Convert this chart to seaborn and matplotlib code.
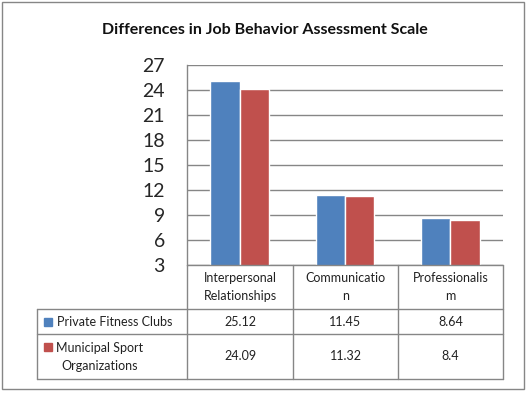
import pandas as pd
import matplotlib.pyplot as plt
import seaborn as sns
import numpy as np

categories = ['Interpersonal Relationships', 'Communication', 'Professionalism']
header_labels = ['Interpersonal\nRelationships', 'Communicatio\nn', 'Professionalis\nm']
series = ['Private Fitness Clubs', 'Municipal Sport Organizations']
series_labels = ['Private Fitness Clubs', 'Municipal Sport\nOrganizations']
private_vals = [25.12, 11.45, 8.64]
municipal_vals = [24.09, 11.32, 8.4]
yticks = [3, 6, 9, 12, 15, 18, 21, 24, 27]
colors = ['#4F81BD', '#C0504D']

df = pd.DataFrame({
    'category': categories * 2,
    'group': [series[0]] * 3 + [series[1]] * 3,
    'value': private_vals + municipal_vals,
})

W, H = 529, 394
sns.set_style('white')
plt.rcParams['font.family'] = ['Lato', 'DejaVu Sans']

fig = plt.figure(figsize=(W / 100, H / 100), dpi=100)


def fx(px):
    return px / W


def fy(py):
    return 1 - py / H


grey = '#868686'
ax = fig.add_axes([fx(187), fy(265), fx(503) - fx(187), fy(65) - fy(265)])
sns.barplot(data=df, x='category', y='value', hue='group', palette=colors,
            width=0.56, saturation=1, ax=ax, legend=False, zorder=3)
ax.set_ylim(3, 27)
ax.set_xlim(-0.5, 2.5)
ax.set_yticks(yticks)
ax.set_yticklabels([str(t) for t in yticks], fontsize=14)
ax.tick_params(axis='y', length=0, pad=16)
ax.set_xticks([])
ax.set_xlabel('')
ax.set_ylabel('')
ax.grid(axis='y', color=grey, linewidth=1, zorder=0)
for s in ['top', 'right', 'bottom']:
    ax.spines[s].set_visible(False)
ax.spines['left'].set_color(grey)
ax.spines['left'].set_linewidth(1)

fig.text(0.5, fy(30), 'Differences in Job Behavior Assessment Scale',
         ha='center', va='center', fontsize=11.5, fontweight='bold', color='#111111')

# data table
col_x = [37, 187, 293, 398, 503]
row_y = [265, 309, 334, 379]


def hline(y, x0, x1):
    fig.add_artist(plt.Line2D([fx(x0), fx(x1)], [fy(y), fy(y)], color=grey, lw=1))


def vline(x, y0, y1):
    fig.add_artist(plt.Line2D([fx(x), fx(x)], [fy(y0), fy(y1)], color=grey, lw=1))


hline(row_y[0], col_x[1], col_x[4])
for y in row_y[1:]:
    hline(y, col_x[0], col_x[4])
vline(col_x[0], row_y[1], row_y[3])
for x in col_x[1:]:
    vline(x, row_y[0], row_y[3])

for i, lab in enumerate(header_labels):
    cx = (col_x[i + 1] + col_x[i + 2]) / 2
    fig.text(fx(cx), fy((row_y[0] + row_y[1]) / 2), lab, ha='center', va='center',
             fontsize=9, linespacing=1.6, color='#222222')

rows = [private_vals, municipal_vals]
for r, vals in enumerate(rows):
    cy = (row_y[r + 1] + row_y[r + 2]) / 2
    for i, v in enumerate(vals):
        cx = (col_x[i + 1] + col_x[i + 2]) / 2
        fig.text(fx(cx), fy(cy), str(v), ha='center', va='center', fontsize=9, color='#222222')
    sq_y = cy - (10 if r else 0)
    fig.add_artist(plt.Rectangle((fx(44), fy(sq_y + 4)), fx(8), fy(sq_y - 4) - fy(sq_y + 4),
                                 color=colors[r], transform=fig.transFigure))
    fig.text(fx(57) if r == 0 else fx(100), fy(cy), series_labels[r],
             ha='left' if r == 0 else 'center', va='center', fontsize=9,
             linespacing=1.6, multialignment='center', color='#222222')

# chart border
fig.add_artist(plt.Rectangle((fx(2), fy(389)), fx(524) - fx(2), fy(2) - fy(389),
                             fill=False, edgecolor=grey, lw=1, transform=fig.transFigure))

plt.savefig('out.png', dpi=100)
plt.close()
